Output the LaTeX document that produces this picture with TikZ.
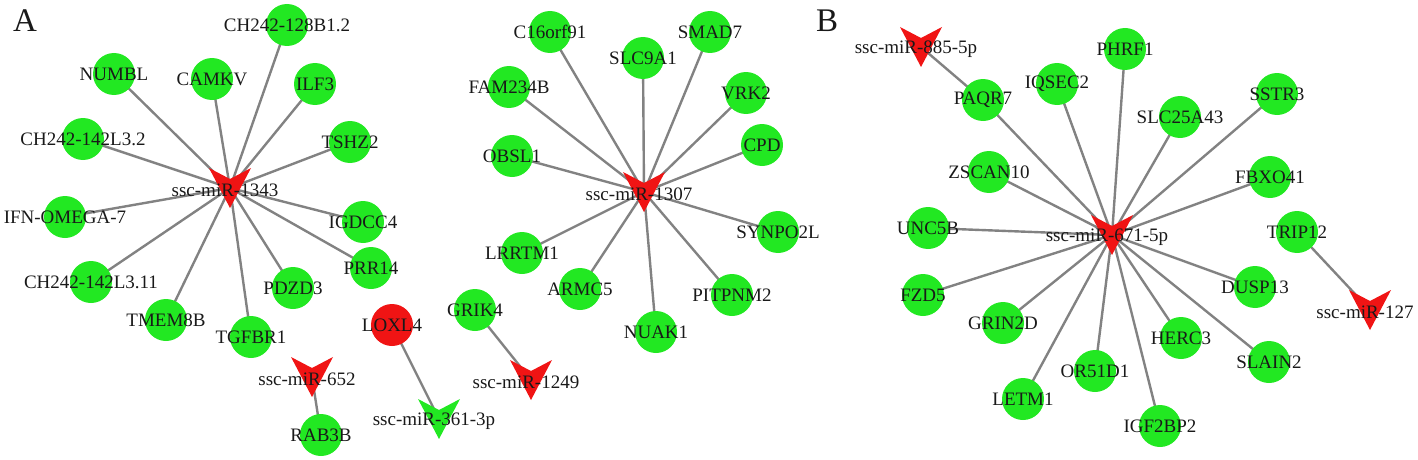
\documentclass[tikz,border=0pt]{standalone}
\usepackage{fontspec}
\setmainfont{Liberation Serif}
\usetikzlibrary{backgrounds}
\definecolor{ngreen}{RGB}{34,232,34}
\definecolor{nred}{RGB}{240,20,20}
\definecolor{egray}{RGB}{130,130,130}
\definecolor{txt}{RGB}{25,25,25}
\tikzset{
  lbl/.style={font=\fontsize{19}{19}\selectfont, text=txt, inner sep=0pt},
  gnode/.style={circle, fill=ngreen, minimum size=42pt, inner sep=0pt},
  rnode/.style={circle, fill=nred, minimum size=42pt, inner sep=0pt},
  vnode/.style={circle, minimum size=62pt, inner sep=0pt,
    path picture={\fill[#1] ([shift={(-21,-20)}]path picture bounding box.center)
      -- ([shift={(0,-9)}]path picture bounding box.center)
      -- ([shift={(21,-20)}]path picture bounding box.center)
      -- ([shift={(0,20)}]path picture bounding box.center) -- cycle;}},
  vnode/.default=nred,
  edge/.style={draw=egray, line width=2.4pt},
  panel/.style={font=\fontsize{33}{33}\selectfont, text=txt, inner sep=0pt}
}
\newcommand\gn[3]{\node[gnode, label={[lbl]center:#3}] (#1) at (#2) {};}
\newcommand\mv[4][nred]{\node[vnode=#1, label={[lbl, xshift=-5pt, yshift=-2pt]center:#4}] (#2) at (#3) {};}
\begin{document}
\begin{tikzpicture}[x=1pt, y=-1pt]
\useasboundingbox (0,0) rectangle (1418,460);
\node[panel] (pA) at (25,21) {A};
\node[panel] (pB) at (827,21) {B};
% cluster miR-1343
\mv{m1343}{230,188}{ssc-miR-1343}
\gn{g1}{287,25}{CH242-128B1.2}
\gn{g2}{114,74}{NUMBL}
\gn{g3}{212,79}{CAMKV}
\gn{g4}{315,84}{ILF3}
\gn{g5}{83,139}{CH242-142L3.2}
\gn{g6}{350,142}{TSHZ2}
\gn{g7}{65,217}{IFN-OMEGA-7}
\gn{g8}{363,222}{IGDCC4}
\gn{g9}{91,282}{CH242-142L3.11}
\gn{g10}{166,320}{TMEM8B}
\gn{g11}{251,337}{TGFBR1}
\gn{g12}{293,288}{PDZD3}
\gn{g13}{371,268}{PRR14}
% small pairs
\mv{m652}{312,377}{ssc-miR-652}
\gn{rab}{321,435}{RAB3B}
\node[rnode, label={[lbl]center:LOXL4}] (loxl) at (392,325) {};
\mv[ngreen]{m361}{439,419}{ssc-miR-361-3p}
\gn{grik}{475,310}{GRIK4}
\mv{m1249}{531,380}{ssc-miR-1249}
% cluster miR-1307
\mv{m1307}{644,192}{ssc-miR-1307}
\gn{h1}{550,32}{C16orf91}
\gn{h2}{643,58}{SLC9A1}
\gn{h3}{710,32}{SMAD7}
\gn{h4}{509,87}{FAM234B}
\gn{h5}{746,93}{VRK2}
\gn{h6}{512,156}{OBSL1}
\gn{h7}{762,145}{CPD}
\gn{h8}{778,232}{SYNPO2L}
\gn{h9}{522,253}{LRRTM1}
\gn{h10}{580,289}{ARMC5}
\gn{h11}{656,332}{NUAK1}
\gn{h12}{732,295}{PITPNM2}
% panel B
\mv{m885}{921,47}{ssc-miR-885-5p}
\mv{m671}{1112,235}{ssc-miR-671-5p}
\mv{m127}{1370,310}{ssc-miR-127}
\gn{k1}{983,100}{PAQR7}
\gn{k2}{1057,84}{IQSEC2}
\gn{k3}{1125,49}{PHRF1}
\gn{k4}{1180,117}{SLC25A43}
\gn{k5}{1277,94}{SSTR3}
\gn{k6}{989,172}{ZSCAN10}
\gn{k7}{1270,177}{FBXO41}
\gn{k8}{928,228}{UNC5B}
\gn{k9}{923,295}{FZD5}
\gn{k10}{1003,323}{GRIN2D}
\gn{k11}{1023,399}{LETM1}
\gn{k12}{1095,371}{OR51D1}
\gn{k13}{1160,426}{IGF2BP2}
\gn{k14}{1181,338}{HERC3}
\gn{k15}{1269,362}{SLAIN2}
\gn{k16}{1255,287}{DUSP13}
\gn{trip}{1297,232}{TRIP12}
\begin{pgfonlayer}{background}
\foreach \n in {g1,g2,g3,g4,g5,g6,g7,g8,g9,g10,g11,g12,g13}
  \draw[edge] (m1343.center) -- (\n.center);
\foreach \n in {h1,h2,h3,h4,h5,h6,h7,h8,h9,h10,h11,h12}
  \draw[edge] (m1307.center) -- (\n.center);
\foreach \n in {k1,k2,k3,k4,k5,k6,k7,k8,k9,k10,k11,k12,k13,k14,k15,k16}
  \draw[edge] (m671.center) -- (\n.center);
\draw[edge] (m652.center) -- (rab.center);
\draw[edge] (loxl.center) -- (m361.center);
\draw[edge] (grik.center) -- (m1249.center);
\draw[edge] (m885.center) -- (k1.center);
\draw[edge] (trip.center) -- (m127.center);
\end{pgfonlayer}
\end{tikzpicture}
\end{document}
